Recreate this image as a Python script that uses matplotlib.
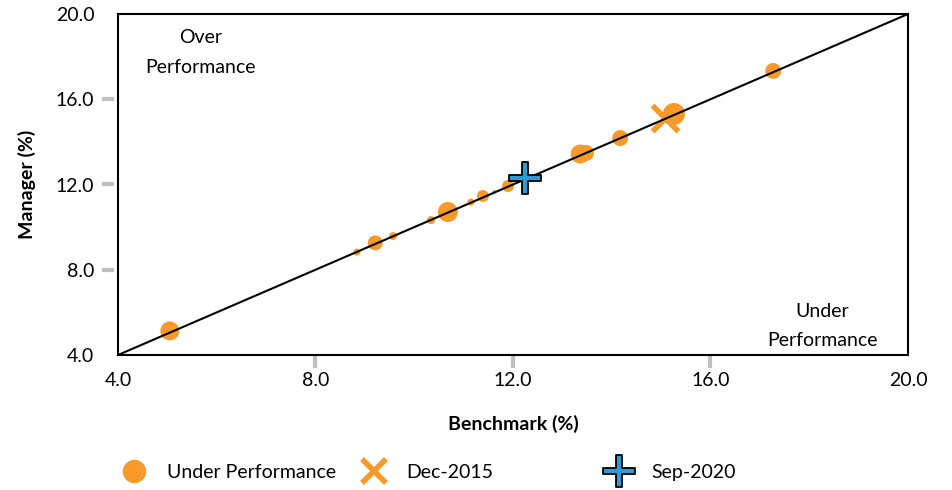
import numpy as np
import matplotlib.pyplot as plt
from matplotlib.path import Path
from matplotlib.lines import Line2D

plt.rcParams['font.family'] = ['Lato', 'DejaVu Sans']

# Data
bench = [5.05, 8.84, 9.21, 9.57, 10.34, 10.68, 11.15, 11.39, 11.62, 11.90,
         13.36, 13.48, 14.17, 15.26, 17.27]
manager = [5.13, 8.83, 9.26, 9.58, 10.33, 10.71, 11.18, 11.46, 11.65, 11.93,
           13.43, 13.48, 14.18, 15.31, 17.33]
weight = [19, 7, 15, 8, 8, 20, 7, 12, 4, 12, 19, 16, 16, 22, 16]  # bubble diameter (px)

dec2015 = (15.08, 15.12)
sep2020 = (12.24, 12.30)

ticks = [4.0, 8.0, 12.0, 16.0, 20.0]

orange = '#F89A2B'
blue = '#2E9BD6'

# thin plus marker
w = 0.16
plus = Path([(-w, 1), (w, 1), (w, w), (1, w), (1, -w), (w, -w), (w, -1),
             (-w, -1), (-w, -w), (-1, -w), (-1, w), (-w, w), (-w, 1)], closed=True)

fig = plt.figure(figsize=(9.53, 4.9), dpi=100)
ax = fig.add_axes([118 / 953, 1 - 355 / 490, 790 / 953, 341 / 490])

px2pt = 72 / 100
ax.scatter(bench, manager, s=(np.array(weight) * px2pt) ** 2, color=orange,
           edgecolors='none', zorder=3)
ax.plot([4, 20], [4, 20], color='black', lw=1.5, zorder=4)
ax.scatter([dec2015[0]], [dec2015[1]], marker='x', s=(26 * px2pt) ** 2,
           color=orange, linewidths=4, zorder=3)
ax.scatter([sep2020[0]], [sep2020[1]], marker=plus, s=(32 * px2pt) ** 2,
           color=blue, edgecolors='black', linewidths=1.3, zorder=5)

ax.set_xlim(4, 20)
ax.set_ylim(4, 20)
ax.set_xticks(ticks)
ax.set_yticks(ticks)
ax.set_xticklabels([f'{t:.1f}' for t in ticks], fontsize=14)
ax.set_yticklabels([f'{t:.1f}' for t in ticks], fontsize=14)
ax.tick_params(length=0)
ax.tick_params(axis='x', pad=12)
ax.tick_params(axis='y', pad=17)
for s in ax.spines.values():
    s.set_linewidth(1.5)

# gray tick marks detached from the frame
for t in ticks[1:-1]:
    ax.add_line(Line2D([t, t], [-0.008, -0.033], transform=ax.get_xaxis_transform(),
                       color='#BFBFBF', lw=3, clip_on=False))
    ax.add_line(Line2D([-0.008, -0.018], [t, t], transform=ax.get_yaxis_transform(),
                       color='#BFBFBF', lw=3, clip_on=False))

ax.set_xlabel('Benchmark (%)', fontsize=14, fontweight='bold', labelpad=19)
ax.set_ylabel('Manager (%)', fontsize=14, fontweight='bold', labelpad=14)

ax.text(0.105, 0.887, 'Over\nPerformance', transform=ax.transAxes, ha='center',
        va='center', fontsize=14, linespacing=1.9)
ax.text(0.892, 0.085, 'Under\nPerformance', transform=ax.transAxes, ha='center',
        va='center', fontsize=14, linespacing=1.9)

handles = [
    Line2D([], [], ls='none', marker='o', markersize=22 * px2pt, color=orange),
    Line2D([], [], ls='none', marker='x', markersize=24 * px2pt, color=orange,
           markeredgewidth=4),
    Line2D([], [], ls='none', marker=plus, markersize=32 * px2pt,
           markerfacecolor=blue, markeredgecolor='black', markeredgewidth=1.3),
]
labels = ['Under Performance', 'Dec-2015', 'Sep-2020']
xs = [120 / 953, 360 / 953, 605 / 953]
for h, l, x in zip(handles, labels, xs):
    leg = fig.legend([h], [l], loc='center left', bbox_to_anchor=(x, 1 - 472 / 490),
                     frameon=False, fontsize=14, handlelength=1.4, handletextpad=1.0,
                     borderaxespad=0, borderpad=0)

fig.savefig('out.png', dpi=100)
